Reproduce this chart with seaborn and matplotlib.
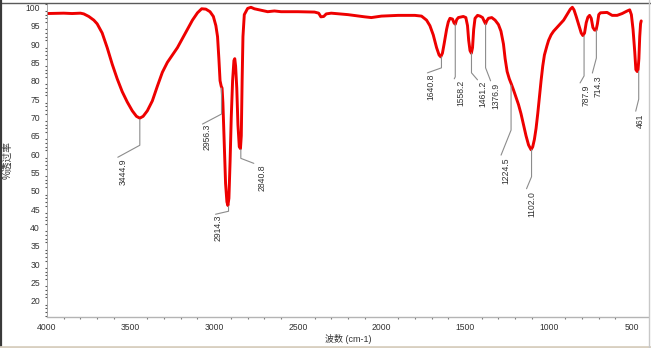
import numpy as np
import pandas as pd
import matplotlib
matplotlib.use("Agg")
import matplotlib.pyplot as plt
from matplotlib.lines import Line2D
from matplotlib.ticker import MultipleLocator
import seaborn as sns

# ---- data ----
wavenumber = [4000, 3900, 3850, 3800, 3780, 3750, 3720, 3700, 3670, 3640, 3610, 3580, 3550,
              3520, 3490, 3465, 3445, 3425, 3400, 3370, 3340, 3310, 3280, 3250, 3220, 3190,
              3160, 3130, 3100, 3075, 3050, 3025, 3005, 2990, 2980, 2972, 2965, 2958, 2953,
              2948, 2940, 2932, 2924, 2918, 2912, 2905, 2898, 2890, 2882, 2877, 2872, 2865,
              2858, 2850, 2843, 2838, 2833, 2828, 2820, 2800, 2780, 2760, 2720, 2680, 2640,
              2600, 2500, 2400, 2375, 2362, 2345, 2330, 2300, 2200, 2100, 2060, 2000, 1900,
              1800, 1760, 1730, 1710, 1690, 1670, 1655, 1645, 1635, 1625, 1610, 1600, 1590,
              1575, 1565, 1558, 1550, 1540, 1510, 1495, 1485, 1478, 1470, 1462, 1455, 1448,
              1440, 1425, 1410, 1395, 1385, 1377, 1370, 1360, 1340, 1320, 1300, 1285, 1270,
              1260, 1248, 1235, 1222, 1210, 1195, 1180, 1165, 1150, 1135, 1120, 1105, 1095,
              1085, 1075, 1065, 1055, 1045, 1035, 1025, 1010, 1000, 985, 970, 950, 930, 910,
              890, 870, 858, 848, 835, 820, 805, 795, 785, 775, 765, 755, 745, 735, 725, 716,
              708, 700, 690, 650, 620, 590, 560, 530, 515, 505, 495, 485, 478, 470, 465, 460,
              455, 450, 446]
transmittance = [98.3, 98.4, 98.3, 98.4, 98.2, 97.5, 96.5, 95.5, 93.0, 89.0, 84.5, 80.5, 77.0,
                 74.2, 71.8, 70.3, 69.8, 70.3, 71.8, 74.5, 78.5, 82.3, 85.0, 87.0, 89.0, 91.5,
                 94.0, 96.5, 98.5, 99.6, 99.5, 98.8, 97.5, 95.0, 92.0, 86.0, 80.0, 78.5, 78.0,
                 74.0, 63.0, 52.0, 47.0, 46.0, 48.0, 58.0, 70.0, 80.0, 85.5, 86.0, 84.0, 78.0,
                 68.0, 62.0, 61.5, 65.0, 80.0, 92.0, 98.0, 99.7, 100.0, 99.6, 99.2, 98.8, 99.0,
                 98.8, 98.8, 98.7, 98.4, 97.4, 97.5, 98.2, 98.4, 98.0, 97.4, 97.2, 97.6, 97.8,
                 97.8, 97.6, 96.5, 95.0, 92.5, 89.0, 87.0, 86.5, 87.5, 90.0, 94.0, 96.0, 97.0,
                 96.8, 95.7, 95.4, 96.6, 97.2, 97.5, 97.2, 95.0, 91.0, 88.2, 87.5, 89.0, 94.0,
                 97.0, 97.8, 97.6, 97.2, 96.2, 95.5, 96.3, 97.0, 97.2, 96.5, 95.3, 93.5, 90.0,
                 86.0, 82.5, 80.5, 79.0, 77.5, 75.5, 73.5, 71.0, 68.0, 65.0, 62.5, 61.2, 62.0,
                 64.0, 67.0, 71.0, 75.5, 80.0, 84.0, 87.0, 89.5, 91.0, 92.5, 93.5, 94.5, 95.5,
                 96.5, 98.0, 99.5, 100.0, 99.3, 97.5, 95.3, 93.0, 92.3, 93.0, 95.8, 97.3, 97.8,
                 97.0, 94.5, 93.8, 93.8, 95.5, 98.0, 98.5, 98.6, 97.8, 97.8, 98.3, 99.0, 99.3,
                 98.0, 94.0, 88.0, 83.0, 82.5, 83.0, 86.0, 92.0, 95.5, 96.3]

peak_labels = ["3444.9", "2956.3", "2914.3", "2840.8", "1640.8", "1558.2", "1461.2",
               "1376.9", "1224.5", "1102.0", "787.9", "714.3", "461"]
peak_wn = [3444.9, 2956.3, 2914.3, 2840.8, 1640.8, 1558.2, 1461.2,
           1376.9, 1224.5, 1102.0, 787.9, 714.3, 461]
peak_T = [69.5, 78.0, 45.8, 61.3, 86.5, 95.5, 87.6, 95.5, 78.8, 61.2, 92.2, 93.8, 82.6]

x_ticks = [4000, 3500, 3000, 2500, 2000, 1500, 1000, 500]
y_ticks = list(range(20, 101, 5))

# ---- leader-line layout (pixel offsets, image y pointing down) ----
# drop from peak, (dx, dy) knee->end, (dx, dy) end->text top
lead_drop = [26, 26, 5, 9, 11, 53, 20, 44, 45, 27, 40, 28, 28]
lead_end = [(-22, 12), (-19, 10), (-13, 3), (13, 5), (-14, 5), (-1, 2), (6, 7),
            (5, 13), (-10, 25), (-5, 12), (-4, 7), (-4, 15), (-3, 12)]
lead_text = [(5, 1), (5, 0), (3, 0), (8, 1), (3, 1), (7, 1), (5, 1),
             (5, 2), (5, 2), (5, 2), (6, 2), (6, 2), (5, 2)]

sns.set_style("white")
plt.rcParams["font.family"] = ["Liberation Sans", "Noto Sans CJK SC", "DejaVu Sans"]

W, H = 651, 348
fig = plt.figure(figsize=(W / 100, H / 100), dpi=100)
ax = fig.add_axes([47 / W, 1 - 317 / H, 601 / W, 314 / H])

df = pd.DataFrame({"wn": wavenumber, "T": transmittance})
sns.lineplot(data=df, x="wn", y="T", sort=False, estimator=None, ax=ax,
             color="#ee0000", linewidth=2.1)

ax.set_xlim(4000, 405.5)
ax.set_ylim(15.63, 101.17)

for s in ["top", "right"]:
    ax.spines[s].set_visible(False)
ax.spines["left"].set_color("#9a9a9a")
ax.spines["left"].set_linewidth(0.6)
ax.spines["bottom"].set_color("#b4b4b4")
ax.spines["bottom"].set_linewidth(1.0)

ax.set_xticks(x_ticks)
ax.set_xticklabels([str(v) for v in x_ticks])
ax.set_yticks(y_ticks)
ax.set_yticklabels([str(v) for v in y_ticks])
ax.xaxis.set_minor_locator(MultipleLocator(100))
ax.yaxis.set_minor_locator(MultipleLocator(1))
ax.tick_params(axis="both", which="major", direction="out", length=2.5, width=0.8,
               colors="#444444", labelsize=6.2, labelcolor="#333333")
ax.tick_params(axis="y", which="major", pad=2.5)
ax.tick_params(axis="x", which="major", pad=2.0)
ax.tick_params(axis="y", which="minor", direction="out", length=1.2, width=0.8, color="#555555", left=True)
ax.tick_params(axis="x", which="minor", direction="out", length=1.2, width=0.8, color="#777777", bottom=True)

ax.set_xlabel("波数 (cm-1)", fontsize=6.5, color="#333333")
ax.set_ylabel("%透过率", fontsize=7, color="#333333")
ax.xaxis.set_label_coords(0.502, -0.069)
ax.xaxis.label.set_va("center")
ax.yaxis.set_label_coords(-0.066, 0.5)
ax.yaxis.label.set_va("center")

ax.grid(False)

# ---- peak annotations ----
fig.canvas.draw()
ident = matplotlib.transforms.IdentityTransform()
for lab, wn, tv, drop, (ex, ey), (tx, ty) in zip(peak_labels, peak_wn, peak_T,
                                                 lead_drop, lead_end, lead_text):
    px, py = ax.transData.transform((wn, tv))
    kx, ky = px, py - drop
    ex_, ey_ = kx + ex, ky - ey
    ax.add_line(Line2D([px, kx, ex_], [py, ky, ey_], transform=ident,
                       color="#8c8c8c", linewidth=0.8, clip_on=False))
    ax.text(ex_ + tx, ey_ - ty, lab, transform=ident, rotation=90,
            ha="center", va="top", fontsize=6.2, color="#333333")

# ---- window frame ----
fig.add_artist(Line2D([0, 1], [1 - 3 / H, 1 - 3 / H], transform=fig.transFigure,
                      color="#5a5a5a", linewidth=1.0))
fig.add_artist(Line2D([1.2 / W, 1.2 / W], [0, 1], transform=fig.transFigure,
                      color="#3a3a3a", linewidth=1.6))
fig.add_artist(Line2D([0, 1], [1.5 / H, 1.5 / H], transform=fig.transFigure,
                      color="#d8cfc0", linewidth=2.0))
fig.add_artist(Line2D([1 - 2 / W, 1 - 2 / W], [0, 1], transform=fig.transFigure,
                      color="#c8c8c8", linewidth=1.0))

fig.savefig("out.png", dpi=100)
